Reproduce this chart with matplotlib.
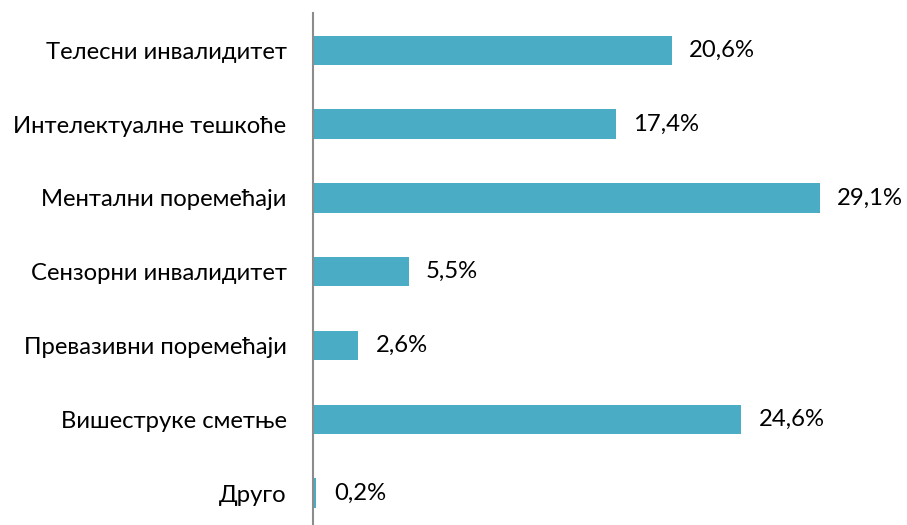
import matplotlib
matplotlib.use("Agg")
import matplotlib.pyplot as plt

categories = ["Телесни инвалидитет", "Интелектуалне тешкоће", "Ментални поремећаји",
              "Сензорни инвалидитет", "Превазивни поремећаји", "Вишеструке сметње", "Друго"]
values = [20.6, 17.4, 29.1, 5.5, 2.6, 24.6, 0.2]
labels = ["20,6%", "17,4%", "29,1%", "5,5%", "2,6%", "24,6%", "0,2%"]

plt.rcParams['font.family'] = ['Lato', 'DejaVu Sans']

fig = plt.figure(figsize=(9.07, 5.25), dpi=100)
ax = fig.add_axes([313/907, -5/525, 557/907, 516.6/525])

y = list(range(len(categories)))
ax.barh(y, values, height=0.4, color="#4BACC6")
ax.set_ylim(len(categories) - 0.5, -0.5)
ax.set_xlim(0, 32)
ax.set_yticks(y)
ax.set_yticklabels(categories, fontsize=17.2, color="#000000")
ax.tick_params(axis='y', length=0, pad=19)
ax.set_xticks([])
for s in ["top", "right", "bottom"]:
    ax.spines[s].set_visible(False)
ax.spines["left"].set_color("#8c8c8c")
ax.spines["left"].set_linewidth(1.5)

for yi, v, lab in zip(y, values, labels):
    ax.annotate(lab, xy=(v, yi), xytext=(12.5, 0), textcoords="offset points",
                va="center", ha="left", fontsize=17.2, color="#000000", annotation_clip=False)

fig.savefig("out.png", dpi=100)
